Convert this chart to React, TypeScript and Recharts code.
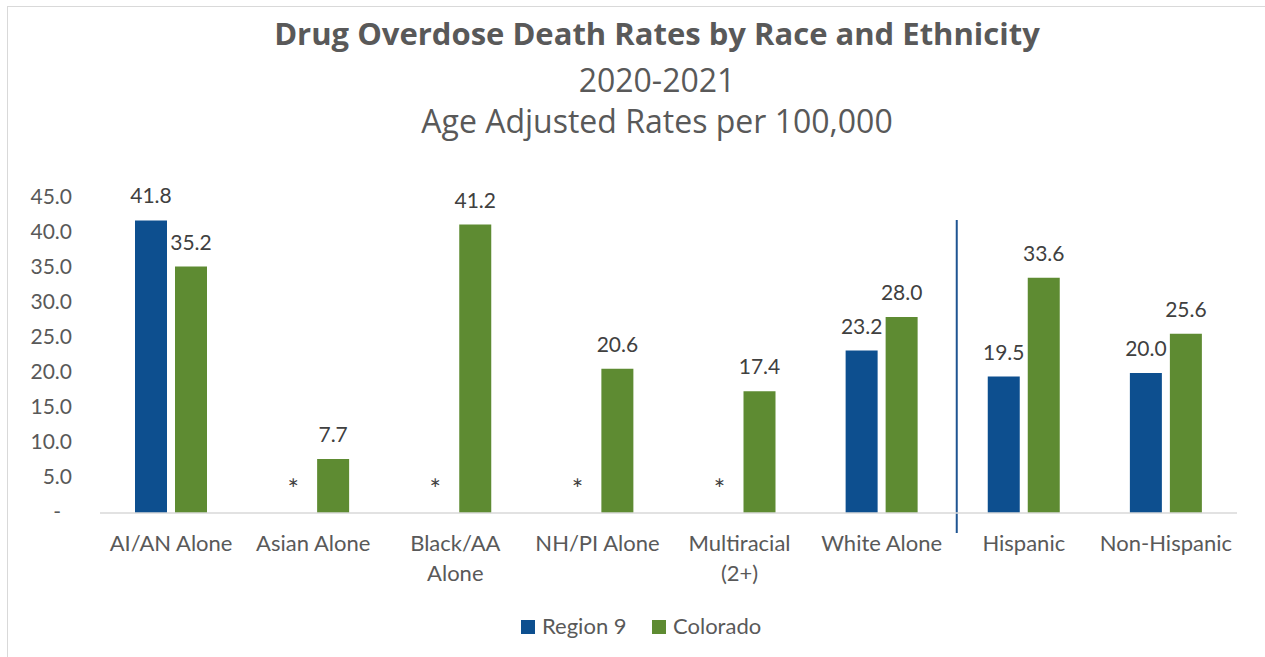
import React from "react";
import { BarChart, Bar, XAxis, YAxis, LabelList, ReferenceLine } from "recharts";

// Categories and series values (age-adjusted rates per 100,000)
const categories = [
  "AI/AN Alone",
  "Asian Alone",
  "Black/AA Alone",
  "NH/PI Alone",
  "Multiracial (2+)",
  "White Alone",
  "Hispanic",
  "Non-Hispanic",
];
// null = rate suppressed (shown as "*")
const region9: (number | null)[] = [41.8, null, null, null, null, 23.2, 19.5, 20.0];
const colorado: number[] = [35.2, 7.7, 41.2, 20.6, 17.4, 28.0, 33.6, 25.6];

const yTicks = [0, 5, 10, 15, 20, 25, 30, 35, 40, 45];
const seriesNames = ["Region 9", "Colorado"];
const suppressedMark = "*";
const ethnicityGroupStart = "Hispanic";

const titleLines = [
  "Drug Overdose Death Rates by Race and Ethnicity",
  "2020-2021",
  "Age Adjusted Rates per 100,000",
];

const FONT = "Lato, 'Open Sans', sans-serif";
const TITLE_FONT = "'Open Sans', Lato, sans-serif";
const BLUE = "#0D4F8F";
const GREEN = "#5E8B32";
const TEXT = "#595959";
const LABEL = "#404040";

const data = categories.map((category, i) => ({
  category,
  region9: region9[i],
  colorado: colorado[i],
}));

const valueLabel = (key: "region9" | "colorado") => (props: any) => {
  const { x, y, width, index, value } = props;
  const raw = data[index]?.[key];
  const suppressed = raw == null || Number(value) === 0;
  const text = suppressed ? suppressedMark : Number(value).toFixed(1);
  return (
    <text
      x={Number(x) + Number(width) / 2}
      y={Number(y) - (suppressed ? 14 : 17)}
      textAnchor="middle"
      fill={LABEL}
      fontSize={suppressed ? 27 : 21}
      fontFamily={FONT}
    >
      {text}
    </text>
  );
};

const CategoryTick = (props: any) => {
  const { x, y, payload } = props;
  const label: string = payload.value;
  const cut = label.lastIndexOf(" ");
  const lines = label.length > 12 && cut > 0 ? [label.slice(0, cut), label.slice(cut + 1)] : [label];
  return (
    <text x={x} y={y} textAnchor="middle" fill={TEXT} fontSize={22} fontFamily={FONT}>
      {lines.map((l, i) => (
        <tspan key={i} x={x} dy={i === 0 ? 38 : 30}>
          {l}
        </tspan>
      ))}
    </text>
  );
};

const ValueTick = (props: any) => {
  const { x, y, payload } = props;
  const v = Number(payload.value);
  const text = v === 0 ? "-" : v.toFixed(1);
  return (
    <text
      x={v === 0 ? x - 11 : x}
      y={y + 6}
      textAnchor="end"
      fill={TEXT}
      fontSize={21}
      fontFamily={FONT}
    >
      {text}
    </text>
  );
};

const GroupDivider = (props: any) => {
  const { x1, y1, y2 } = props;
  return <line x1={x1 + 4} x2={x1 + 4} y1={y1 + 20} y2={y2 + 22} stroke="#1F5592" strokeWidth={2} />;
};

export default function App() {
  return (
    <div
      style={{
        position: "fixed",
        left: 0,
        top: 0,
        width: 1265,
        height: 657,
        overflow: "hidden",
        background: "#fff",
      }}
    >
      <div
        style={{
          position: "absolute",
          left: 7,
          top: 6,
          width: 1400,
          height: 800,
          borderLeft: "1.5px solid #d9d9d9",
          borderTop: "1.5px solid #d9d9d9",
        }}
      />
      <div style={{ position: "absolute", left: 0, top: 0 }}>
        <BarChart
          width={1265}
          height={657}
          data={data}
          margin={{ top: 198, right: 28, bottom: 84, left: 0 }}
          barSize={32}
          barGap={8}
        >
          <XAxis
            dataKey="category"
            interval={0}
            height={60}
            tickLine={false}
            tickSize={0}
            tickMargin={0}
            axisLine={{ stroke: "#d9d9d9", strokeWidth: 1.5 }}
            tick={<CategoryTick />}
          />
          <YAxis
            domain={[0, 45]}
            ticks={yTicks}
            width={100}
            axisLine={false}
            tickLine={false}
            tickSize={0}
            tickMargin={28}
            tick={<ValueTick />}
          />
          <Bar
            name={seriesNames[0]}
            dataKey={(d: any) => (d.region9 == null ? 0 : d.region9)}
            fill={BLUE}
            minPointSize={0.01}
            isAnimationActive={false}
          >
            <LabelList content={valueLabel("region9")} />
          </Bar>
          <Bar
            name={seriesNames[1]}
            dataKey="colorado"
            fill={GREEN}
            isAnimationActive={false}
          >
            <LabelList content={valueLabel("colorado")} />
          </Bar>
          <ReferenceLine
            x={ethnicityGroupStart}
            position="start"
            ifOverflow="visible"
            shape={<GroupDivider />}
          />
        </BarChart>
      </div>
      <svg
        width={1265}
        height={657}
        style={{ position: "absolute", left: 0, top: 0, pointerEvents: "none" }}
      >
        <text x={657} y={45} textAnchor="middle" fill={TEXT} fontSize={31} fontWeight={700} fontFamily={TITLE_FONT}>
          {titleLines[0]}
        </text>
        <text x={657} y={92} textAnchor="middle" fill={TEXT} fontSize={32} fontFamily={TITLE_FONT}>
          {titleLines[1]}
        </text>
        <text x={657} y={133} textAnchor="middle" fill={TEXT} fontSize={32} fontFamily={TITLE_FONT}>
          {titleLines[2]}
        </text>
        {seriesNames.map((name, i) => {
          const lx = 521 + i * 131;
          return (
            <g key={name}>
              <rect x={lx} y={620} width={14} height={14} fill={i === 0 ? BLUE : GREEN} />
              <text x={lx + 21} y={634} fill={TEXT} fontSize={22} fontFamily={FONT}>
                {name}
              </text>
            </g>
          );
        })}
      </svg>
    </div>
  );
}
